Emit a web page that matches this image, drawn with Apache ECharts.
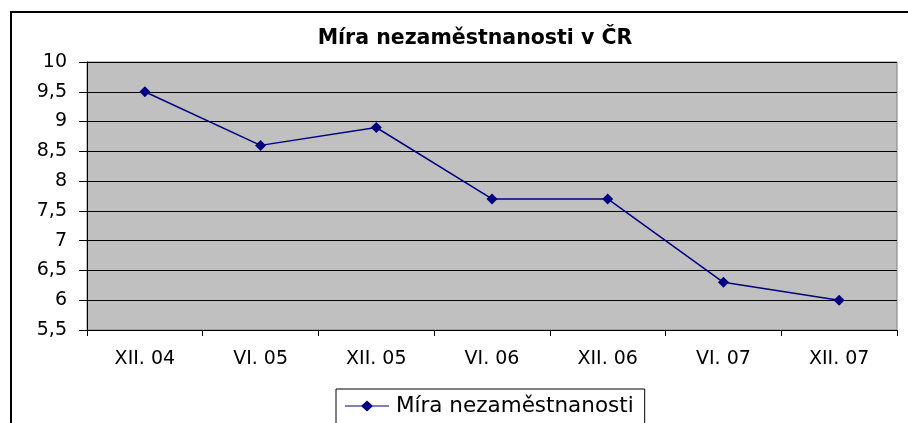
<!DOCTYPE html>
<html>
<head>
<meta charset="utf-8">
<script src="https://cdn.jsdelivr.net/npm/echarts@6/dist/echarts.min.js"></script>
<style>
  html, body { margin: 0; padding: 0; background: #fff; }
  #chart { width: 908px; height: 423px; }
</style>
</head>
<body>
<div id="chart"></div>
<script>
var categories = ['XII. 04', 'VI. 05', 'XII. 05', 'VI. 06', 'XII. 06', 'VI. 07', 'XII. 07']
var unemployment = [9.5, 8.6, 8.9, 7.7, 7.7, 6.3, 6.0]
var seriesName = 'Míra nezaměstnanosti'

var chart = echarts.init(document.getElementById('chart'))
chart.setOption({
  animation: false,
  textStyle: { fontFamily: 'DejaVu Sans' },
  title: {
    text: 'Míra nezaměstnanosti v ČR',
    left: 470,
    textAlign: 'center',
    top: 23,
    textStyle: { fontSize: 20.5, fontWeight: 'bold', color: '#000', fontFamily: 'DejaVu Sans' }
  },
  graphic: [{
    type: 'rect',
    shape: { x: 11, y: 12, width: 1000, height: 600 },
    style: { fill: 'none', stroke: '#000', lineWidth: 2 },
    silent: true,
    z: 100
  }],
  grid: {
    left: 87,
    top: 62,
    right: 11,
    bottom: 93,
    show: true,
    backgroundColor: '#c0c0c0',
    borderColor: '#808080',
    borderWidth: 1
  },
  legend: {
    left: 336,
    top: 389,
    padding: [6, 11, 10, 9],
    borderColor: '#000',
    borderWidth: 1,
    icon: 'path://M0,5.4 L18,5.4 L24,0 L30,5.4 L48,5.4 L48,6.6 L30,6.6 L24,12 L18,6.6 L0,6.6 Z',
    itemWidth: 48,
    itemHeight: 11,
    itemGap: 6,
    textStyle: { fontSize: 21.5, color: '#000', fontFamily: 'DejaVu Sans' },
    data: [seriesName]
  },
  xAxis: {
    type: 'category',
    data: categories,
    boundaryGap: true,
    axisLine: { lineStyle: { color: '#000', width: 1 } },
    axisTick: { show: true, alignWithLabel: false, length: 6, lineStyle: { color: '#000' } },
    axisLabel: { fontSize: 19, color: '#000', margin: 20, fontFamily: 'DejaVu Sans' },
    splitLine: { show: false }
  },
  yAxis: {
    type: 'value',
    min: 5.5,
    max: 10,
    interval: 0.5,
    axisLine: { show: true, lineStyle: { color: '#000', width: 1 } },
    axisTick: { show: true, length: 8, lineStyle: { color: '#000' } },
    axisLabel: {
      fontSize: 19,
      color: '#000',
      margin: 20,
      fontFamily: 'DejaVu Sans',
      formatter: function (v) { return String(v).replace('.', ',') }
    },
    splitLine: { show: true, lineStyle: { color: '#000', width: 1 } }
  },
  series: [{
    name: seriesName,
    type: 'line',
    data: unemployment,
    symbol: 'diamond',
    symbolSize: 11,
    lineStyle: { color: '#000080', width: 1.5 },
    itemStyle: { color: '#000080' }
  }]
})
</script>
</body>
</html>
